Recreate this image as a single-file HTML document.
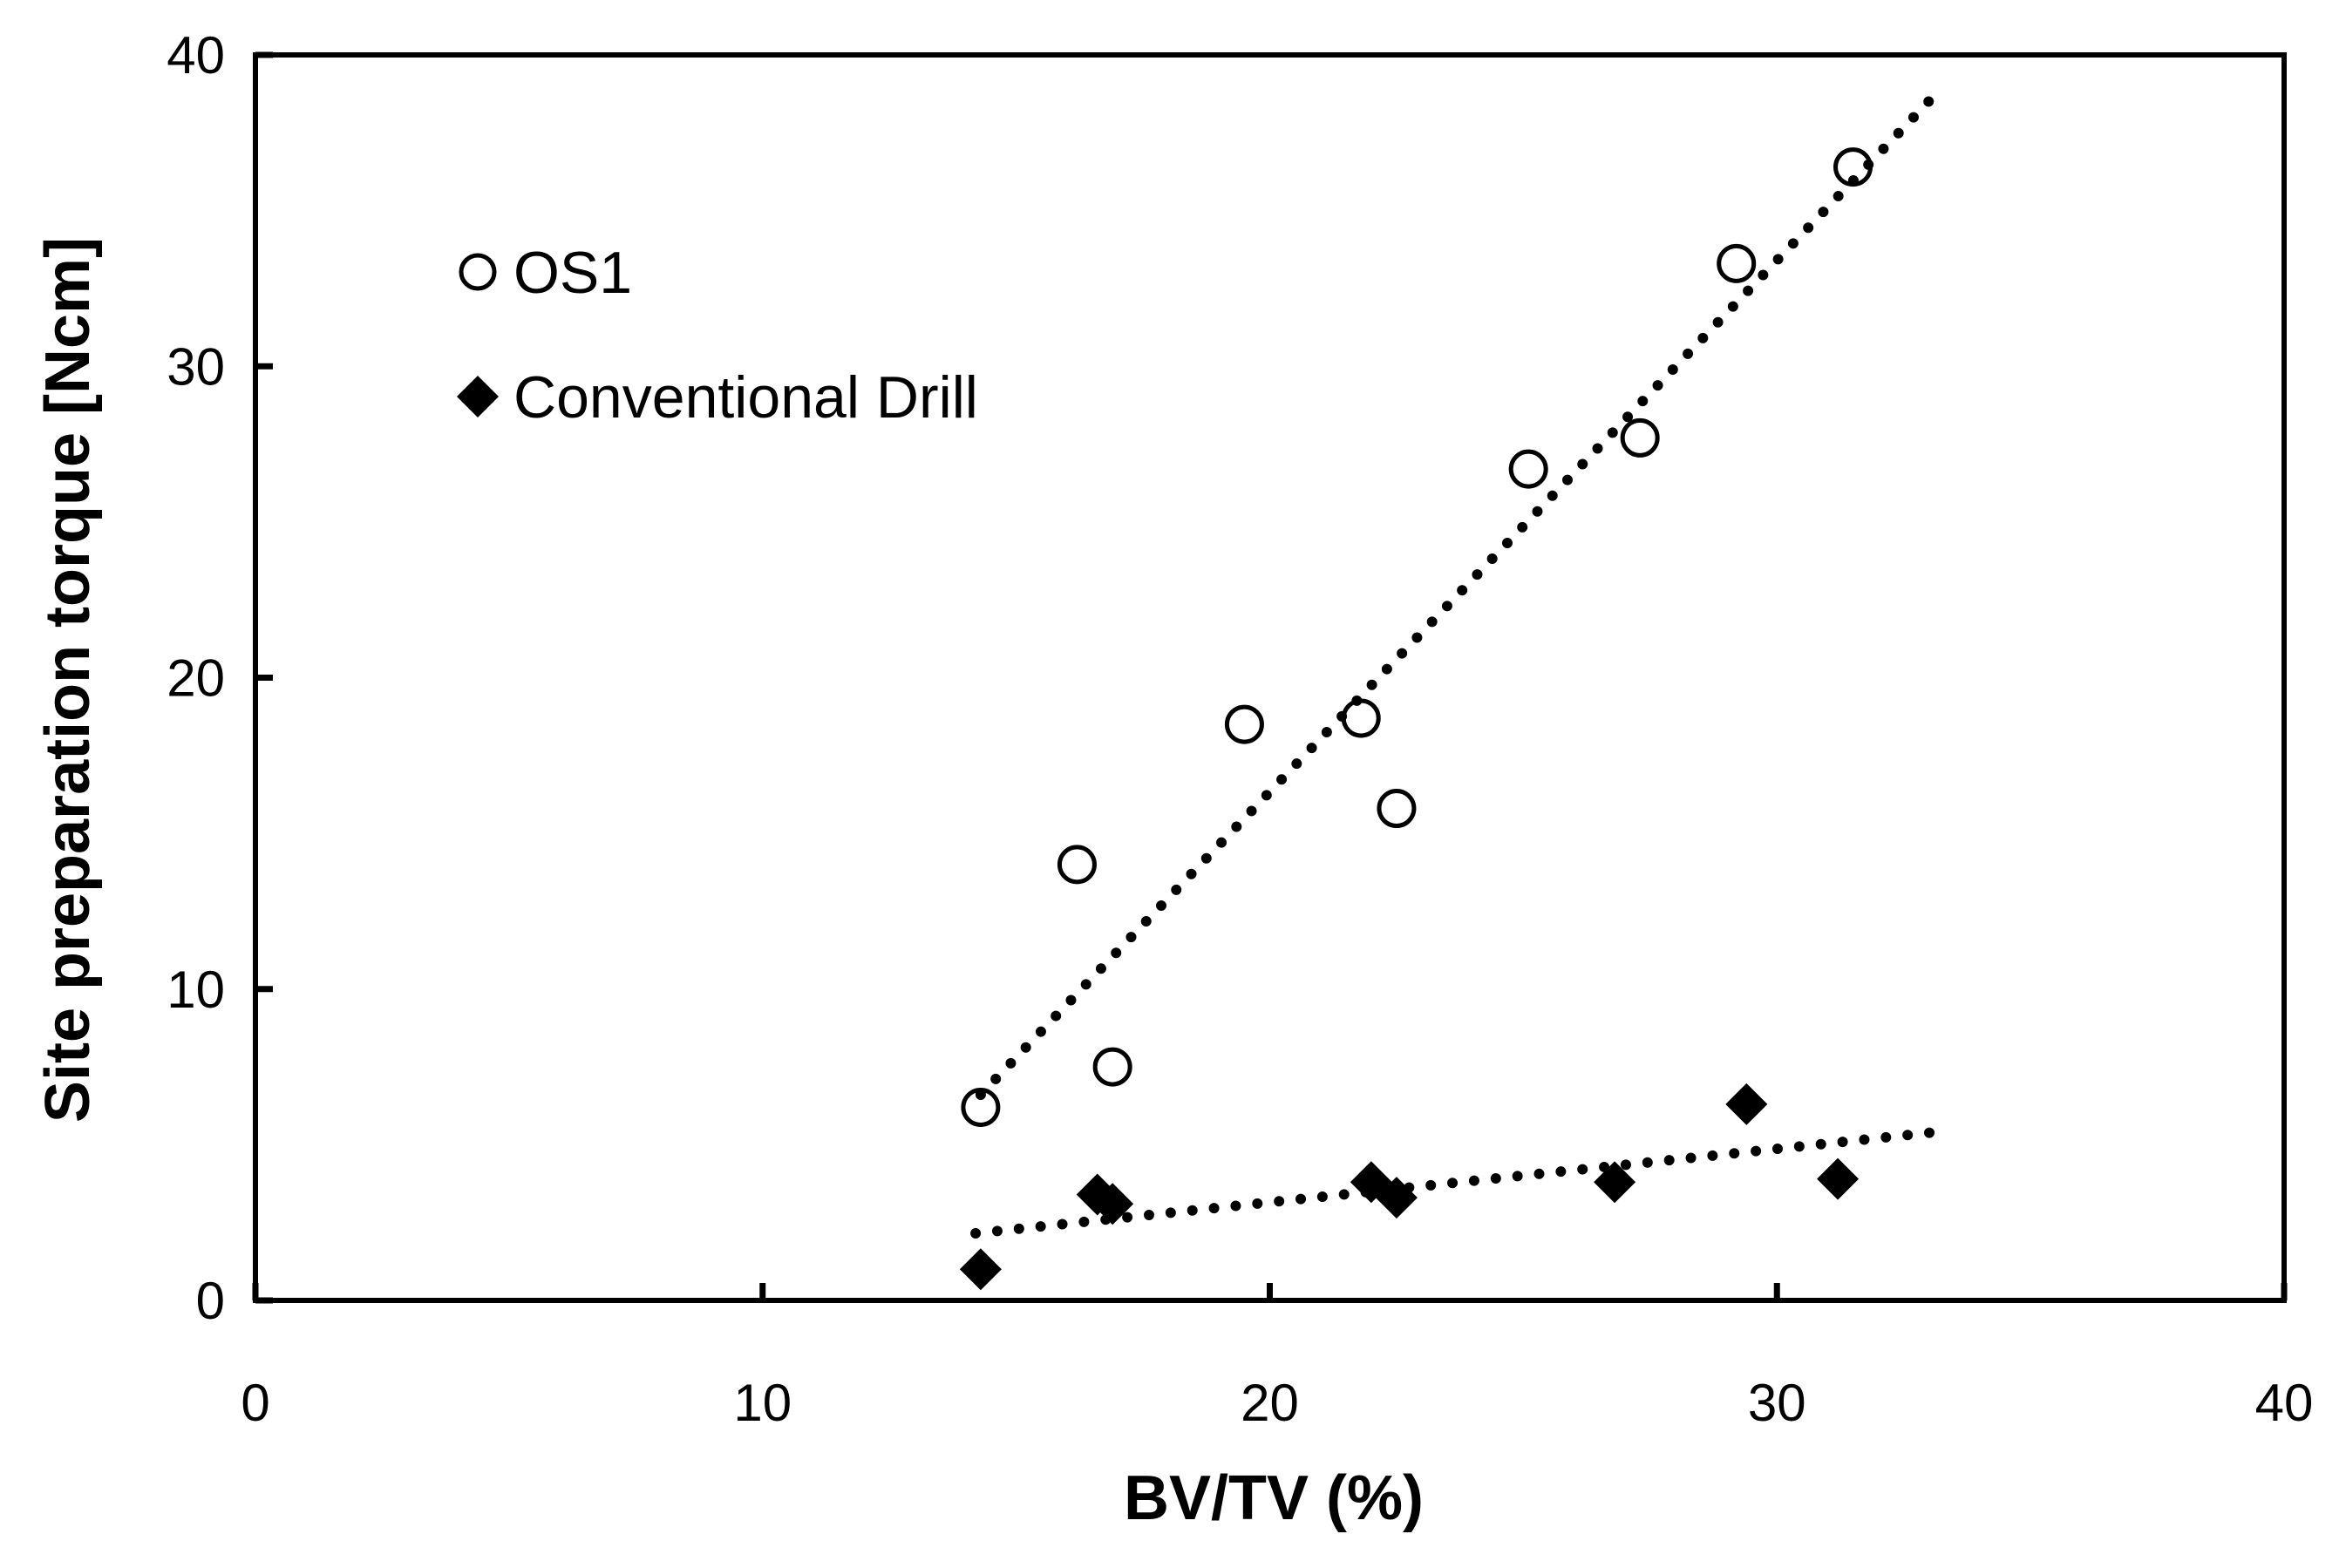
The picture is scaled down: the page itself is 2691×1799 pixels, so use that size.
<!DOCTYPE html>
<html><head><meta charset="utf-8"><style>
html,body{margin:0;padding:0;background:#fff;}
svg{display:block;}
text{font-family:"Liberation Sans",sans-serif;fill:#000;}
</style></head><body>
<svg id="chart" width="2691" height="1799" viewBox="0 0 2691 1799" xmlns="http://www.w3.org/2000/svg">
<rect x="0" y="0" width="2691" height="1799" fill="#fff"/>
<g id="ticks"></g>
<g id="trends"></g>
<g id="marks"></g>
<rect x="293" y="63" width="2327" height="1429" fill="none" stroke="#000" stroke-width="6"/>
<text x="1461" y="1743" font-size="72" font-weight="bold" text-anchor="middle">BV/TV (%)</text>
<text transform="translate(102,780) rotate(-90)" font-size="72" font-weight="bold" text-anchor="middle">Site preparation torque [Ncm]</text>
<g>
<circle cx="548" cy="312" r="19" fill="none" stroke="#000" stroke-width="5"/>
<text x="589" y="336" font-size="68">OS1</text>
<polygon points="548,431 572,455 548,479 524,455" fill="#000"/>
<text x="589" y="479" font-size="68">Conventional Drill</text>
</g>
</svg>
<script>
const xTicks = [0, 10, 20, 30, 40];
const yTicks = [0, 10, 20, 30, 40];
const os1X = [14.3, 16.2, 16.9, 19.5, 21.8, 22.5, 25.1, 27.3, 29.2, 31.5];
const os1Y = [6.2, 14.0, 7.5, 18.5, 18.7, 15.8, 26.7, 27.7, 33.3, 36.4];
const drillX = [14.3, 16.6, 16.9, 22.0, 22.5, 26.8, 29.4, 31.2];
const drillY = [1.0, 3.4, 3.1, 3.8, 3.3, 3.8, 6.3, 3.9];

const L=293,R=2620,T=63,B=1492;
const sx=v=>L+(v-0)/(40-0)*(R-L);
const sy=v=>B-(v-0)/(40-0)*(B-T);
const NS='http://www.w3.org/2000/svg';
function mk(tag,attrs,parent){const e=document.createElementNS(NS,tag);for(const k in attrs)e.setAttribute(k,attrs[k]);parent.appendChild(e);return e;}
const ticks=document.getElementById('ticks'),trends=document.getElementById('trends'),marks=document.getElementById('marks');
xTicks.forEach(v=>{
  const t=mk('line',{x1:sx(v),x2:sx(v),y1:B,y2:B-20,stroke:'#000','stroke-width':7},ticks);
  
  
  const l=mk('text',{x:sx(v),y:1630,'font-size':60,'text-anchor':'middle'},ticks);
  l.textContent=v;
  
  
});
yTicks.forEach(v=>{
  const t=mk('line',{x1:L,x2:L+20,y1:sy(v),y2:sy(v),stroke:'#000','stroke-width':7},ticks);
  
  
  const l=mk('text',{x:258,y:sy(v)+21,'font-size':60,'text-anchor':'end'},ticks);
  l.textContent=v;
  
  
});
function fit(xs,ys){const n=xs.length;let mx=0,my=0;xs.forEach((x,i)=>{mx+=x;my+=ys[i];});mx/=n;my/=n;let a=0,b=0;xs.forEach((x,i)=>{a+=(x-mx)*(ys[i]-my);b+=(x-mx)*(x-mx);});const s=a/b;return [s,my-s*mx];}
function trend(xs,ys,x1,x2,name){const [s,c]=fit(xs,ys);
  const ln=mk('line',{x1:sx(x1),y1:sy(s*x1+c),x2:sx(x2),y2:sy(s*x2+c),stroke:'#000','stroke-width':12,'stroke-linecap':'round','stroke-dasharray':'0 25'},trends);
  
  
}
trend(os1X,os1Y,Math.min(...os1X),33.0,'os1-trendline');
trend(drillX,drillY,Math.min(...drillX)-0.1,33.2,'drill-trendline');
os1X.forEach((x,i)=>{
  const c=mk('circle',{cx:sx(x),cy:sy(os1Y[i]),r:20,fill:'none',stroke:'#000','stroke-width':5},marks);
  
  
});
drillX.forEach((x,i)=>{
  const cx=sx(x),cy=sy(drillY[i]),h=24;
  const p=mk('polygon',{points:`${cx},${cy-h} ${cx+h},${cy} ${cx},${cy+h} ${cx-h},${cy}`,fill:'#000'},marks);
  
  
});
</script>
</body></html>
